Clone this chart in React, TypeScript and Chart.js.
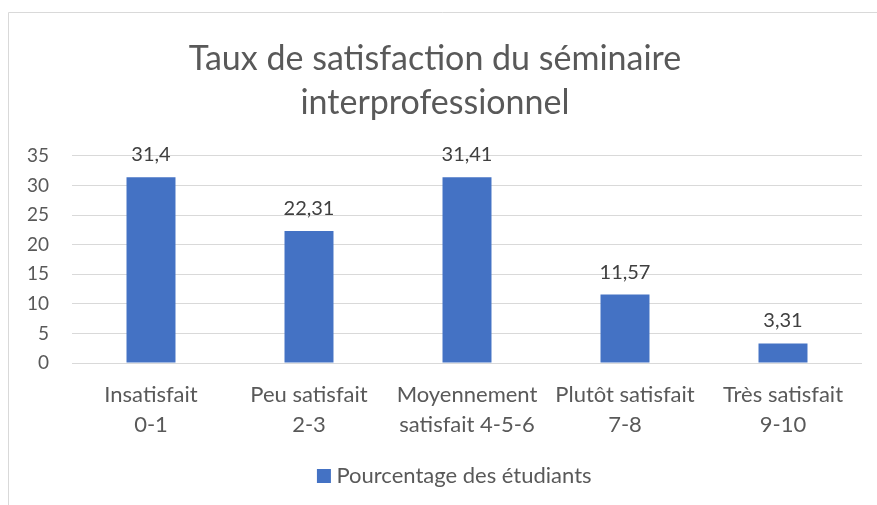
import React, { useEffect, useRef } from "react";
import { Chart, registerables } from "chart.js";

Chart.register(...registerables);

const titleLines = ["Taux de satisfaction du séminaire", "interprofessionnel"];
const categories: string[][] = [
  ["Insatisfait", "0-1"],
  ["Peu satisfait", "2-3"],
  ["Moyennement", "satisfait 4-5-6"],
  ["Plutôt satisfait", "7-8"],
  ["Très satisfait", "9-10"],
];
const seriesName = "Pourcentage des étudiants";
const values = [31.4, 22.31, 31.41, 11.57, 3.31];
const valueLabels = ["31,4", "22,31", "31,41", "11,57", "3,31"];

const FONT = "Lato";
const TEXT = "#595959";

const framePlugin = {
  id: "frame",
  beforeDraw(chart: any) {
    const ctx = chart.ctx;
    ctx.save();
    ctx.strokeStyle = "#d9d9d9";
    ctx.lineWidth = 1;
    ctx.beginPath();
    ctx.moveTo(8.5, chart.height);
    ctx.lineTo(8.5, 12.5);
    ctx.lineTo(chart.width, 12.5);
    ctx.stroke();
    ctx.restore();
  },
};

const legendShiftPlugin = {
  id: "legendShift",
  afterLayout(chart: any) {
    if (chart.legend) {
      chart.legend.left += 22;
      chart.legend.right += 22;
    }
  },
};

const dataLabelPlugin = {
  id: "dataLabels",
  afterDatasetsDraw(chart: any) {
    const ctx = chart.ctx;
    const meta = chart.getDatasetMeta(0);
    ctx.save();
    ctx.font = `20px ${FONT}`;
    ctx.fillStyle = "#404040";
    ctx.textAlign = "center";
    ctx.textBaseline = "alphabetic";
    meta.data.forEach((bar: any, i: number) => {
      ctx.fillText(valueLabels[i], bar.x, bar.y - 16);
    });
    ctx.restore();
  },
};

export default function App() {
  const ref = useRef<HTMLCanvasElement>(null);
  useEffect(() => {
    if (!ref.current) return;
    const chart = new Chart(ref.current, {
      type: "bar",
      data: {
        labels: categories,
        datasets: [
          {
            label: seriesName,
            data: values,
            backgroundColor: "#4472C4",
            borderWidth: 0,
            categoryPercentage: 1,
            barPercentage: 0.31,
          },
        ],
      },
      options: {
        animation: false,
        responsive: false,
        layout: { padding: { left: 8, right: 15, top: 0, bottom: 8 } },
        plugins: {
          title: {
            display: true,
            text: titleLines,
            color: TEXT,
            font: { family: FONT, size: 34, weight: "normal", lineHeight: 1.294 },
            padding: { top: 37, bottom: 31 },
          },
          legend: {
            display: true,
            position: "bottom",
            labels: {
              color: TEXT,
              font: { family: FONT, size: 22 },
              usePointStyle: true,
              pointStyle: "rect",
              boxWidth: 3,
              boxHeight: 14,
              padding: 10,
            },
          },
          tooltip: { enabled: false },
        },
        scales: {
          x: {
            grid: { display: false, drawTicks: false },
            border: { display: false },
            ticks: {
              color: TEXT,
              font: { family: FONT, size: 22, lineHeight: 1.364 },
              padding: 17,
              maxRotation: 0,
              autoSkip: false,
            },
            afterFit(scale: any) {
              scale.height = 92;
            },
          },
          y: {
            min: 0,
            max: 35,
            grid: { color: "#d9d9d9", lineWidth: 1, drawTicks: false },
            border: { display: false },
            ticks: {
              stepSize: 5,
              color: TEXT,
              font: { family: FONT, size: 19 },
              padding: 23,
            },
            afterFit(scale: any) {
              scale.width = 64;
            },
          },
        },
      },
      plugins: [framePlugin, legendShiftPlugin, dataLabelPlugin],
    } as any);
    return () => chart.destroy();
  }, []);
  return (
    <canvas
      ref={ref}
      width={877}
      height={505}
      style={{ position: "fixed", left: 0, top: 0, width: 877, height: 505 }}
    />
  );
}
